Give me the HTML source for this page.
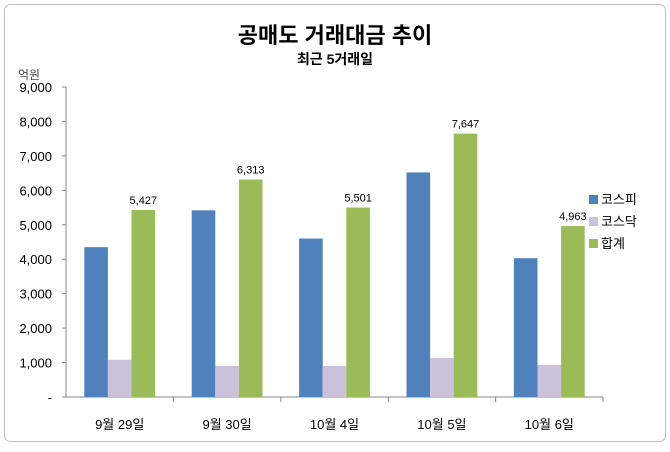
<!DOCTYPE html>
<html><head><meta charset="utf-8"><style>
body{margin:0;background:#fff;}
svg text{font-family:"Liberation Sans","Noto Sans CJK KR",sans-serif;}
</style></head><body>
<svg width="670" height="447" xmlns="http://www.w3.org/2000/svg">
<rect x="4.5" y="4.5" width="661" height="437" rx="6" fill="#fff" stroke="#bfbfbf"/>
<text x="335" y="43" text-anchor="middle" font-size="22" font-weight="bold">공매도 거래대금 추이</text>
<text x="335" y="64" text-anchor="middle" font-size="14" font-weight="bold">최근 5거래일</text>
<text x="18" y="79" font-size="12" fill="#444">억원</text>
<g id="axes"></g><g id="bars"></g><g id="labels"></g>
<g>
<rect x="589" y="195" width="9" height="9" fill="#4f81bd"/>
<text x="601" y="204" font-size="13">코스피</text>
<rect x="589" y="217" width="9" height="9" fill="#ccc1da"/>
<text x="601" y="226" font-size="13">코스닥</text>
<rect x="589" y="239" width="9" height="9" fill="#9bbb59"/>
<text x="601" y="248" font-size="13">합계</text>
</g>
</svg>
<script>
const categories=["9월 29일","9월 30일","10월 4일","10월 5일","10월 6일"];
const kospi=[4350,5420,4600,6520,4030];
const kosdaq=[1080,900,900,1130,930];
const total=[5427,6313,5501,7647,4963];
const yTicks=[0,1000,2000,3000,4000,5000,6000,7000,8000,9000];
const NS="http://www.w3.org/2000/svg";
const x0=66,x1=603,yb=397,yt=87,yMax=9000;
const cw=(x1-x0)/categories.length,bw=23.6;
function y(v){return yb-(v/yMax)*(yb-yt);}
function mk(t,a,p){const e=document.createElementNS(NS,t);for(const k in a)e.setAttribute(k,a[k]);p.appendChild(e);return e;}
const ax=document.getElementById('axes'),bg=document.getElementById('bars'),lg=document.getElementById('labels');
const yl=mk('line',{x1:x0,y1:yt,x2:x0,y2:yb,stroke:'#888'},ax);


const xl=mk('line',{x1:x0,y1:yb,x2:x1,y2:yb,stroke:'#888'},ax);


yTicks.forEach(v=>{
  mk('line',{x1:x0-4,y1:y(v),x2:x0,y2:y(v),stroke:'#888'},ax);
  const t=mk('text',{x:x0-14,y:y(v)+5,'text-anchor':'end','font-size':13},ax);
  t.textContent=v===0?'-':v.toLocaleString('en-US');
  
  
});
const series=[[kospi,'#4f81bd','kospi'],[kosdaq,'#ccc1da','kosdaq'],[total,'#9bbb59','total']];
categories.forEach((c,i)=>{
  const cx=x0+i*cw;
  mk('line',{x1:cx+cw,y1:yb,x2:cx+cw,y2:yb+5,stroke:'#888'},ax);
  const t=mk('text',{x:cx+cw/2,y:yb+32,'text-anchor':'middle','font-size':13},ax);
  t.textContent=c;
  
  
  series.forEach(([arr,col,nm],j)=>{
    const bx=cx+(cw-3*bw)/2+j*bw;
    const r=mk('rect',{x:bx,y:y(arr[i]),width:bw,height:yb-y(arr[i]),fill:col},bg);
    
    
    if(nm==='total'){
      const l=mk('text',{x:bx+bw/2,y:y(arr[i])-6,'text-anchor':'middle','font-size':11},lg);
      l.textContent=arr[i].toLocaleString('en-US');
      
      
    }
  });
});
</script>
</body></html>
